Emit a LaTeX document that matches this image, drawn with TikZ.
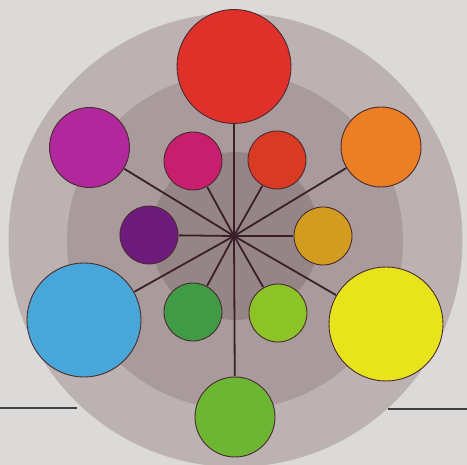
\documentclass[tikz,border=0pt]{standalone}
\usepackage{tikz}
\definecolor{bgc}{HTML}{DCDAD9}
\definecolor{ringA}{HTML}{BDB2B2}
\definecolor{ringB}{HTML}{A99B9C}
\definecolor{ringC}{HTML}{968587}
\definecolor{spoke}{HTML}{3A1E28}
\definecolor{edge}{HTML}{4A2A30}
\definecolor{cRed}{HTML}{E0302A}
\definecolor{cOrange}{HTML}{EC7F24}
\definecolor{cYellow}{HTML}{E8E41C}
\definecolor{cGreen}{HTML}{6DB634}
\definecolor{cBlue}{HTML}{48A6D8}
\definecolor{cMagenta}{HTML}{B0289C}
\definecolor{cPink}{HTML}{C81E6E}
\definecolor{cRedOr}{HTML}{D83A24}
\definecolor{cAmber}{HTML}{D29C20}
\definecolor{cYGreen}{HTML}{8CC326}
\definecolor{cDGreen}{HTML}{409A46}
\definecolor{cPurple}{HTML}{6E1C7C}
\tikzset{
  disc/.style={circle, inner sep=0pt, draw=edge, line width=0.9pt},
  big/.style={disc, minimum size=114pt},
  mid/.style={disc, minimum size=80pt},
  small/.style={disc, minimum size=58pt},
  spk/.style={draw=spoke, line width=1.8pt},
  rule/.style={draw=black!75, line width=1.2pt}
}
\begin{document}
\begin{tikzpicture}[x=1pt, y=-1pt]
\useasboundingbox (0,0) rectangle (467,465);
\fill[bgc] (0,0) rectangle (467,465);
\begin{scope}
\clip (0,0) rectangle (467,465);
\fill[ringA] (235.5,240) circle (227);
\end{scope}
\fill[ringB] (235,241) circle (168);
\fill[ringC] (235,236) circle (84);
% horizontal rules
\coordinate (l0) at (0,408);
\coordinate (l1) at (77,408);
\coordinate (r0) at (388,409);
\coordinate (r1) at (467,409);
\draw[rule] (l0) -- (l1);
\draw[rule] (r0) -- (r1);
% center
\coordinate (c) at (234,236);
% nodes
\node[big, fill=cRed] (red) at (234,66.5) {};
\node[mid, fill=cOrange] (orange) at (381,147) {};
\node[big, fill=cYellow] (yellow) at (386,324) {};
\node[mid, fill=cGreen] (green) at (235,417) {};
\node[big, fill=cBlue] (blue) at (84,320) {};
\node[mid, fill=cMagenta] (magenta) at (89.5,147.5) {};
\node[small, fill=cPink] (pink) at (193,161) {};
\node[small, fill=cRedOr] (redor) at (277,160) {};
\node[small, fill=cAmber] (amber) at (323,236) {};
\node[small, fill=cYGreen] (ygreen) at (278,313) {};
\node[small, fill=cDGreen] (dgreen) at (193,312) {};
\node[small, fill=cPurple] (purple) at (149,235) {};
% spokes
\begin{scope}[on background layer/.try]
\end{scope}
\foreach \n in {red,orange,yellow,green,blue,magenta,pink,redor,amber,ygreen,dgreen,purple}
  \draw[spk, shorten >=0.4pt] (c) -- (\n);
\end{tikzpicture}
\end{document}
